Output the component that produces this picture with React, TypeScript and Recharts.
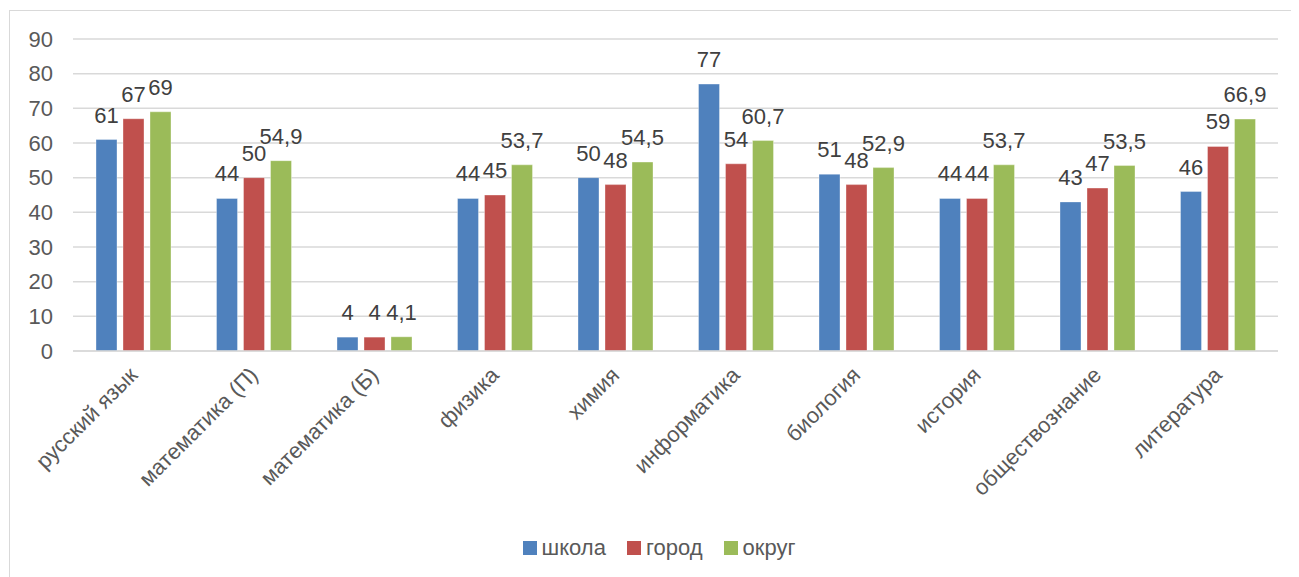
import { BarChart, Bar, XAxis, YAxis, CartesianGrid, Legend, LabelList } from 'recharts';

const subjects = [
  'русский язык',
  'математика (П)',
  'математика (Б)',
  'физика',
  'химия',
  'информатика',
  'биология',
  'история',
  'обществознание',
  'литература',
];
const school = [61, 44, 4, 44, 50, 77, 51, 44, 43, 46];
const city = [67, 50, 4, 45, 48, 54, 48, 44, 47, 59];
const district = [69, 54.9, 4.1, 53.7, 54.5, 60.7, 52.9, 53.7, 53.5, 66.9];
const yTicks = [0, 10, 20, 30, 40, 50, 60, 70, 80, 90];

const series = [
  { key: 'school', name: 'школа', color: '#4F81BD' },
  { key: 'city', name: 'город', color: '#C0504D' },
  { key: 'district', name: 'округ', color: '#9BBB59' },
];

const data = subjects.map((name, i) => ({
  name,
  school: school[i],
  city: city[i],
  district: district[i],
}));

const FONT = '"Liberation Sans", Arial, sans-serif';
const fmt = (v: any) => String(v).replace('.', ',');

// rotated category labels, like Excel's -45°
const CategoryTick = ({ x, y, payload }: any) => (
  <g transform={`translate(${x},${y + 12})`}>
    <text
      transform="rotate(-45)"
      textAnchor="end"
      dy="0.35em"
      fill="#595959"
      fontSize={22}
      fontFamily={FONT}
    >
      {payload.value}
    </text>
  </g>
);

const LegendContent = () => (
  <div
    style={{
      display: 'flex',
      justifyContent: 'center',
      alignItems: 'center',
      gap: 21,
      paddingLeft: 32,
      height: 30,
      fontFamily: FONT,
      fontSize: 22,
      color: '#595959',
    }}
  >
    {series.map((s) => (
      <div key={s.key} style={{ display: 'flex', alignItems: 'center', gap: 5 }}>
        <span style={{ width: 14, height: 14, background: s.color, display: 'inline-block' }} />
        <span>{s.name}</span>
      </div>
    ))}
  </div>
);

export default function App() {
  return (
    <div style={{ position: 'relative', width: 1291, height: 569, overflow: 'hidden', background: '#fff' }}>
      {/* chart frame, only top and left edges fall inside the picture */}
      <div
        style={{
          position: 'absolute',
          left: 1,
          top: 2,
          width: 1340,
          height: 640,
          border: '1.5px solid #d9d9d9',
        }}
      />
      <BarChart
        width={1291}
        height={569}
        data={data}
        margin={{ top: 31, right: 21, left: 0, bottom: 14 }}
        barGap={6}
        barSize={21}
        style={{ position: 'absolute', left: 0, top: 0 }}
      >
        <CartesianGrid vertical={false} stroke="#d9d9d9" strokeWidth={1.5} />
        <XAxis
          dataKey="name"
          interval={0}
          height={182}
          tickLine={false}
          axisLine={{ stroke: '#d9d9d9', strokeWidth: 1.5 }}
          tick={<CategoryTick />}
        />
        <YAxis
          width={65}
          domain={[0, 90]}
          ticks={yTicks}
          interval={0}
          axisLine={false}
          tickLine={false}
          tickSize={0}
          tickMargin={20}
          tick={{ fill: '#595959', fontSize: 22, fontFamily: FONT }}
        />
        <Legend verticalAlign="bottom" height={30} content={<LegendContent />} />
        {series.map((s) => (
          <Bar
            key={s.key}
            dataKey={s.key}
            name={s.name}
            fill={s.color}
            stroke="#ffffff"
            strokeOpacity={0.35}
            isAnimationActive={false}
          >
            <LabelList
              dataKey={s.key}
              position="top"
              offset={17}
              formatter={fmt}
              fill="#404040"
              fontSize={22}
              fontFamily={FONT}
            />
          </Bar>
        ))}
      </BarChart>
    </div>
  );
}
